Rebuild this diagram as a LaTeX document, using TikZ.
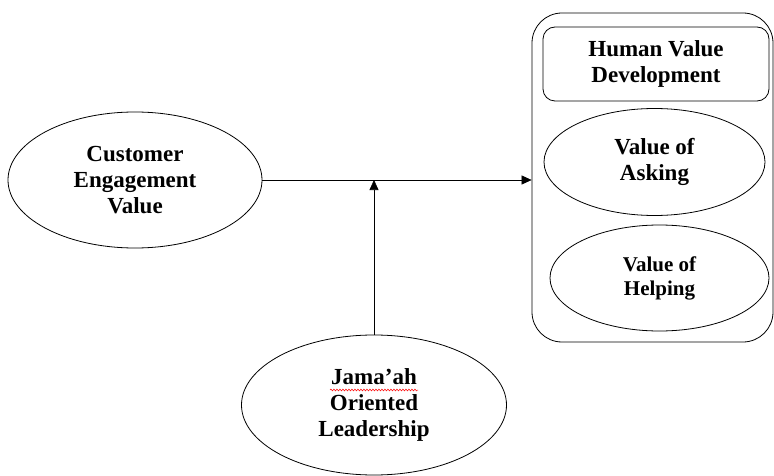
\documentclass[tikz,border=0pt]{standalone}
\usepackage{fontspec}
\setmainfont{Liberation Serif}
\usetikzlibrary{arrows.meta,shapes.geometric,decorations.pathmorphing}
\begin{document}
\begin{tikzpicture}[x=1pt,y=-1pt,
  every node/.style={font=\fontsize{23}{26}\selectfont\bfseries, align=center, inner sep=0pt},
  ell/.style={draw, line width=0.8pt, ellipse},
  rbox/.style={draw, line width=0.8pt, rectangle},
  arr/.style={draw, line width=0.6pt, -{Triangle[length=10pt,width=9pt]}}]
\useasboundingbox (0,0) rectangle (774,476);
\node[ell, minimum width=254pt, minimum height=136pt] (cev) at (135,180) {Customer\\Engagement\\Value};
\node[rbox, rounded corners=30pt, minimum width=241pt, minimum height=329pt] (outer) at (652.5,177.5) {};
\node[rbox, rounded corners=12pt, minimum width=226pt, minimum height=74pt] (hvd) at (656,64) {Human Value\\Development};
\node[ell, minimum width=221pt, minimum height=107pt] (ask) at (654.5,162) {Value of\\Asking};
\node[ell, minimum width=219pt, minimum height=106pt, font=\fontsize{21}{24}\selectfont\bfseries] (help) at (659.5,278) {Value of\\Helping};
\node[ell, minimum width=265pt, minimum height=140pt] (jol) at (374,405) {Jama’ah\\Oriented\\Leadership};
\coordinate (wavl) at ([xshift=-44pt,yshift=15pt]jol.center);
\coordinate (wavr) at ([xshift=44pt,yshift=15pt]jol.center);
\draw[red, line width=0.5pt, decorate, decoration={snake, amplitude=0.9pt, segment length=3pt}] (wavl) -- (wavr);
\draw[arr] (cev.east) -- (cev.east -| outer.west);
\draw[arr] (jol.north) -- (jol.north |- cev.east);
\end{tikzpicture}
\end{document}
